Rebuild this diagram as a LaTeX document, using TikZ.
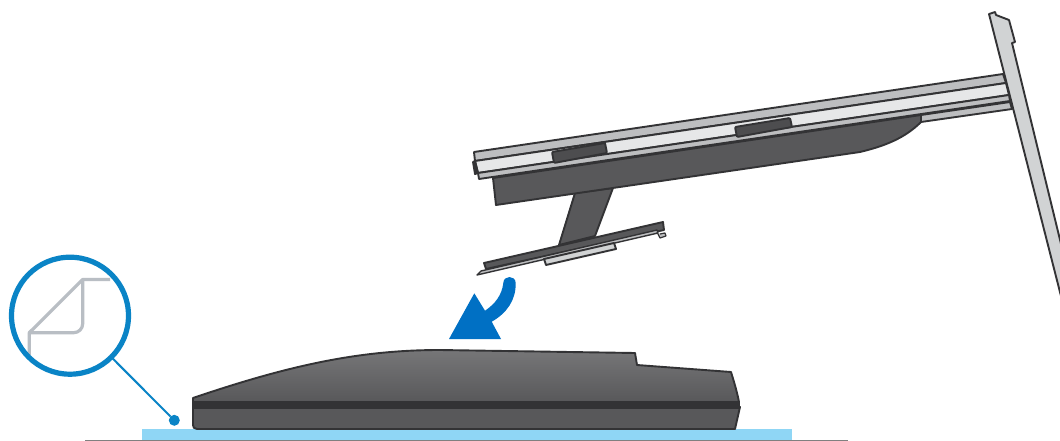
\documentclass[tikz,border=0pt]{standalone}
\definecolor{edgegrey}{HTML}{333335}
\definecolor{bodygrey}{HTML}{58585A}
\definecolor{railgrey}{HTML}{BDBEC0}
\definecolor{lightgrey}{HTML}{E6E7E8}
\definecolor{standgrey}{HTML}{D1D3D4}
\definecolor{ringblue}{HTML}{0A84C6}
\definecolor{arrowblue}{HTML}{0070C4}
\definecolor{matblue}{HTML}{8FD6F5}
\definecolor{curlgrey}{HTML}{B9BEC4}
\tikzset{
  part/.style={draw=edgegrey,line width=1.9pt,line join=round},
  curl/.style={draw=curlgrey,line width=3.2pt,line join=round},
  ring/.style={draw=ringblue,line width=5.2pt,circle,minimum size=117pt,inner sep=0pt,outer sep=0pt},
  spot/.style={fill=ringblue,circle,minimum size=11pt,inner sep=0pt,outer sep=0pt}
}
\begin{document}
\begin{tikzpicture}[x=1pt,y=-1pt]
        \useasboundingbox (0,0) rectangle (1060,441);
        \fill[white] (0,0) rectangle (1060,441);
        % mat and table
        \fill[matblue] (142,429) rectangle (792,440);
        \draw[gray,line width=1.2pt] (85,440.5)--(848,440.5);
        % closed panel
        \draw[part,top color=bodygrey!82!white,bottom color=bodygrey] (193,398) .. controls (290,365) and (360,350) .. (440,350) -- (635,353) -- (637,365) -- (731,372) .. controls (735,385) and (737,392) .. (739,402) -- (193,402) -- cycle;
        \draw[part,fill=bodygrey] (193,407) -- (740,407) -- (735,429) -- (197,429) .. controls (194,429) and (193,427) .. (193,425) -- cycle;
        \fill[edgegrey] (192,401.5) -- (740,401.5) -- (740,408.5) -- (192,408.5) -- cycle;
        % stand base
        \draw[part,fill=bodygrey] (575,193) -- (613,188) -- (595,236) -- (559,245) -- cycle;
        \draw[part,fill=bodygrey] (484,263) -- (663,222) -- (664,230) -- (486,269) -- cycle;
        \draw[part,fill=railgrey,line width=1.4pt] (481,271) -- (657,230) -- (658,233) -- (477,275) -- cycle;
        \draw[part,fill=railgrey,line width=1.2pt] (657,232) -- (660,238) -- (666,236) -- (665,233) -- (660,234);
        \draw[part,fill=standgrey] (544,259) -- (614,243) -- (616,249) -- (546,265) -- cycle;
        % raised panel
        \draw[part,fill=bodygrey] (493,178) -- (921,115) -- (921,122) .. controls (905,138) and (885,146) .. (860,152) -- (496,205) -- cycle;
        \draw[part,fill=railgrey] (921,115) -- (1010,102) -- (1012,109) -- (921,122) -- cycle;
        \draw[part,fill=railgrey] (474,152) -- (1003,74) -- (1006,83) -- (475,161) -- cycle;
        \draw[part,fill=lightgrey] (475,161) -- (1006,83) -- (1009,95) -- (478,173) -- cycle;
        \draw[part,fill=railgrey] (478,173) -- (1009,95) -- (1010,101) -- (479,179) -- cycle;
        \draw[part,fill=edgegrey] (475,161) -- (473,162) -- (475,174) -- (478,173) -- cycle;
        \draw[part,fill=bodygrey!88!black,rounded corners=1pt] (552,152) -- (605,143) -- (607,153) -- (554,163) -- cycle;
        \draw[part,fill=bodygrey!88!black,rounded corners=1pt] (735,127) -- (790,118) -- (792,127) -- (737,137) -- cycle;
        % upright
        \draw[part,fill=standgrey] (989,14) -- (995,12) -- (996,15) -- (1009,20) -- (1015,42) -- (1012,43) -- (1062,248) -- (1062,300) -- cycle;
        % sticker callout
        \draw[curl] (110,279.5) -- (82.7,279.5) -- (29.3,332.7) -- (29.3,355);
        \draw[curl,rounded corners=9pt] (82.7,279.5) -- (82.7,332.7) -- (29.3,332.7);
        \draw (70,315.7) node[ring] (lens) {};
        \draw (174.3,420.3) node[spot] (dot) {};
        \draw[ringblue,line width=2pt] (lens)--(dot);
        % arrow
        \fill[arrowblue] (474.3,293.3) -- (449,339) -- (501,339) -- (491.7,321.7) .. controls (507,313) and (516,300) .. (515.7,283) .. controls (515.5,275) and (503.5,275) .. (503.3,283) .. controls (502,295) and (495,304) .. (485,310.7) -- cycle;
\end{tikzpicture}
\end{document}
